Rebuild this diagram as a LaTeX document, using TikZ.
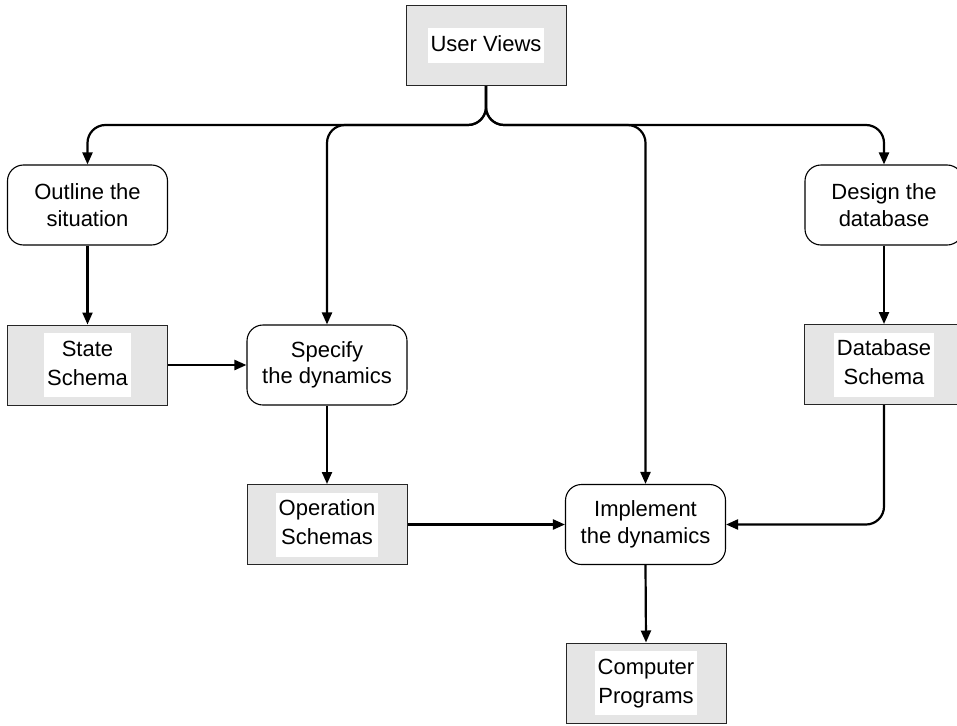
\documentclass[tikz,border=0pt]{standalone}
\usepackage{fontspec}
\setmainfont{Liberation Sans}
\usetikzlibrary{arrows.meta}
\definecolor{boxgray}{HTML}{E5E5E5}
% two-line label on a white patch, used inside the grey boxes
\newcommand{\whitelabel}[1]{{\setlength{\fboxsep}{3pt}\colorbox{white}{\begin{tabular}{@{}c@{}}#1\end{tabular}}}}
\begin{document}
\begin{tikzpicture}[x=1pt,y=-1pt,
  process/.style={draw, line width=1.1pt, rounded corners=16pt,
    minimum width=160pt, minimum height=80pt, align=center, inner sep=0pt,
    font=\fontsize{22}{26.5}\selectfont},
  datastore/.style={draw=black!85, line width=1pt, fill=boxgray,
    minimum width=160pt, minimum height=80pt, inner sep=0pt,
    font=\fontsize{22}{29}\selectfont},
  flow/.style={line width=2.2pt, -{Triangle[length=12pt,width=10pt]}}
]
\useasboundingbox (0,0) rectangle (957,725);

% stores (grey boxes)
\node[datastore] (uv) at (486,45.5) {\whitelabel{User Views}};
\node[datastore] (ss) at (87.5,365) {\whitelabel{State\\Schema}};
\node[datastore] (os) at (327,524.5) {\whitelabel{Operation\\Schemas}};
\node[datastore] (ds) at (884,364.5) {\whitelabel{Database\\Schema}};
\node[datastore] (cp) at (646,683) {\whitelabel{Computer\\Programs}};

% activities (rounded boxes)
\node[process] (ol) at (87.5,205) {Outline the\\situation};
\node[process] (sp) at (327,365) {Specify\\the dynamics};
\node[process] (im) at (645.5,524.5) {Implement\\the dynamics};
\node[process, minimum width=158pt] (dn) at (884,205) {Design the\\database};

% branching from the user views
\coordinate (split) at (486,125);
\begin{scope}[rounded corners=18pt]
\draw[flow] (uv.south) -- (split) -| (ol.north);
\draw[flow] (uv.south) -- (split) -| (sp.north);
\draw[flow] (uv.south) -- (split) -| (im.north);
\draw[flow] (uv.south) -- (split) -| (dn.north);
\draw[flow] (ds.south) |- (im.east);
\end{scope}

% straight flows
\draw[flow] (ol.south) -- (ss.north);
\draw[flow] (ss.east) -- (sp.west);
\draw[flow] (sp.south) -- (os.north);
\draw[flow] (os.east) -- (im.west);
\draw[flow] (dn.south) -- (ds.north);
\draw[flow] (im.south) -- (cp.north);
\end{tikzpicture}
\end{document}
